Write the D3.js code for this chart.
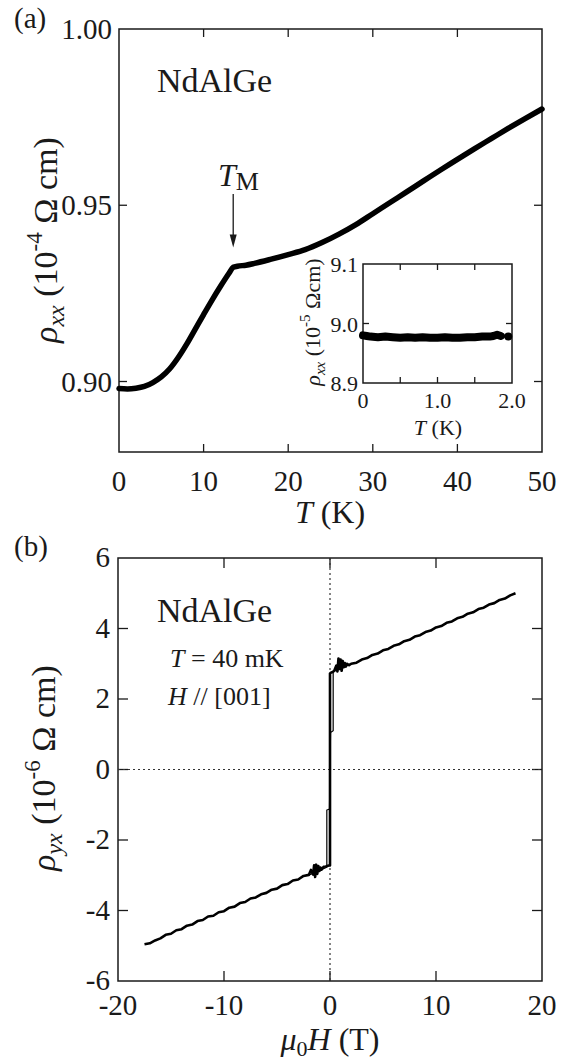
<!DOCTYPE html>
<html>
<head>
<meta charset="utf-8">
<script src="https://cdn.jsdelivr.net/npm/d3@7"></script>
<style>
  body { margin: 0; background: #fff; }
  svg  { display: block; }
  svg text { font-family: "Liberation Serif", "DejaVu Serif", "Noto Serif", "Times New Roman", serif; }
</style>
</head>
<body>
<script>
// ---------- panel (a): rho_xx(T) ----------
const tempK = [0, 1, 2, 3, 4, 5, 6, 7, 8, 9, 10, 11, 12, 13, 13.5, 14, 15, 16, 18, 20,
               22, 24, 26, 28, 30, 32, 34, 36, 38, 40, 42, 44, 46, 48, 50];
const rhoXX = [0.8980, 0.8979, 0.8981, 0.8986, 0.8997, 0.9013, 0.9036, 0.9068, 0.9106, 0.9148,
               0.9190, 0.9231, 0.9270, 0.9307, 0.9324, 0.9327, 0.9330, 0.9335, 0.9347, 0.9360,
               0.9374, 0.9394, 0.9418, 0.9445, 0.9476, 0.9507, 0.9538, 0.9569, 0.9600, 0.9630,
               0.9660, 0.9689, 0.9718, 0.9746, 0.9773];
const TM = 13.5;
const arrowRho = [0.9532, 0.9380];   // arrow top / tip

// inset: low-T rho_xx (10^-5 Ohm cm)
const insetT   = [0, 0.05, 0.1, 0.2, 0.3, 0.4, 0.5, 0.6, 0.7, 0.8, 0.9, 1.0, 1.1, 1.2,
                  1.3, 1.4, 1.5, 1.6, 1.7, 1.75, 1.8, 1.85, null, 1.95];
const insetRho = [8.980, 8.979, 8.978, 8.977, 8.978, 8.977, 8.976, 8.977, 8.976, 8.977, 8.976,
                  8.976, 8.977, 8.976, 8.976, 8.977, 8.977, 8.978, 8.978, 8.979, 8.981, 8.979,
                  null, 8.978];

// ---------- panel (b): rho_yx(H) ----------
const fieldUp = [-17.5, -17, -16.5, -16, -15.5, -15, -14.5, -14, -13.5, -13, -12.5, -12, -11.5,
                 -11, -10.5, -10, -9.5, -9, -8.5, -8, -7.5, -7, -6.5, -6, -5.5, -5, -4.5, -4,
                 -3.5, -3, -2.5, -2, -1.8, -1.6, -1.5, -1.4, -1.3, -1.2, -1.1, -1.0, -0.9, -0.8,
                 -0.6, -0.4, -0.2, -0.05, 0, 0, 0.05, 0.2, 0.4, 0.6, 0.7, 0.8, 0.9, 1.0, 1.1,
                 1.2, 1.3, 1.4, 1.5, 1.6, 1.8, 2, 2.5, 3, 3.5, 4, 4.5, 5, 5.5, 6, 6.5, 7, 7.5,
                 8, 8.5, 9, 9.5, 10, 10.5, 11, 11.5, 12, 12.5, 13, 13.5, 14, 14.5, 15, 15.5, 16,
                 16.5, 17, 17.5];
const rhoYXup = [-4.96, -4.93, -4.85, -4.79, -4.69, -4.66, -4.56, -4.53, -4.43, -4.40, -4.30,
                 -4.27, -4.17, -4.15, -4.05, -4.02, -3.92, -3.89, -3.79, -3.76, -3.66, -3.63,
                 -3.54, -3.50, -3.41, -3.38, -3.28, -3.25, -3.15, -3.12, -3.02, -2.99, -2.85,
                 -2.98, -2.72, -3.05, -2.70, -2.96, -2.74, -2.88, -2.78, -2.84, -2.76, -2.75,
                 -2.73, -2.72, -2.72,
                 2.72, 2.74, 2.76, 2.80, 2.95, 2.78, 3.15, 2.85, 3.12, 2.80, 3.08, 2.90, 3.02,
                 2.92, 3.00, 2.96, 3.00, 3.03, 3.12, 3.16, 3.25, 3.29, 3.38, 3.42, 3.51, 3.55,
                 3.64, 3.68, 3.77, 3.81, 3.90, 3.94, 4.03, 4.07, 4.16, 4.20, 4.29, 4.33, 4.42,
                 4.46, 4.55, 4.59, 4.68, 4.72, 4.81, 4.85, 4.94, 5.00];
const fieldDown = [2, 1.0, 0.5, 0.3, 0.3, 0.05, 0, -0.05, -0.3, -0.3, -0.5, -1.0, -2];
const rhoYXdown = [3.0, 2.86, 2.80, 2.77, 1.10, 1.05, 0, -1.12, -1.15, -2.77, -2.80, -2.86, -3.0];

// ticks
const aTicksX = [0, 10, 20, 30, 40, 50];
const aTicksY = [0.90, 0.95, 1.00];
const inLabelsX = [0, 1.0, 2.0];
const inTicksY = [8.9, 9.0, 9.1];
const bTicksX = [-20, -10, 0, 10, 20];
const bTicksY = [-6, -4, -2, 0, 2, 4, 6];

// ---------- drawing ----------
const W = 573, H = 1061;
const INK = "#1a1a1a";

const svg = d3.select("body").append("svg")
  .attr("width", W).attr("height", H)
  .attr("fill", INK);

function frame(x, y, len, xt, yt) {
  const g = svg.append("g");
  const [x0, x1] = x.range(), [y0, y1] = y.range();
  g.append("rect")
    .attr("x", x0).attr("y", y1)
    .attr("width", x1 - x0).attr("height", y0 - y1)
    .attr("fill", "none").attr("stroke", INK).attr("stroke-width", 1.5);
  // inward ticks on all four sides
  xt.forEach(v => {
    g.append("line").attr("x1", x(v)).attr("x2", x(v)).attr("y1", y0).attr("y2", y0 - len);
    g.append("line").attr("x1", x(v)).attr("x2", x(v)).attr("y1", y1).attr("y2", y1 + len);
  });
  yt.forEach(v => {
    g.append("line").attr("y1", y(v)).attr("y2", y(v)).attr("x1", x0).attr("x2", x0 + len);
    g.append("line").attr("y1", y(v)).attr("y2", y(v)).attr("x1", x1).attr("x2", x1 - len);
  });
  g.selectAll("line").attr("stroke", INK).attr("stroke-width", 1.3);
  return g;
}

function xLabels(x, vals, base, size, fmt) {
  svg.append("g").selectAll("text").data(vals).join("text")
    .attr("x", d => x(d)).attr("y", base)
    .attr("text-anchor", "middle").attr("font-size", size)
    .text(fmt);
}
function yLabels(y, vals, right, size, shift, fmt) {
  svg.append("g").selectAll("text").data(vals).join("text")
    .attr("x", right).attr("y", d => y(d) + shift)
    .attr("text-anchor", "end").attr("font-size", size)
    .text(fmt);
}

// --- panel (a)
const xa = d3.scaleLinear([0, 50], [119, 542]);
const ya = d3.scaleLinear([0.88, 1.00], [452, 29]);

frame(xa, ya, 8, [10, 20, 30, 40], [0.90, 0.95]);
xLabels(xa, aTicksX, 491, 29, d => d);
yLabels(ya, aTicksY, 112, 29, 10, d3.format(".2f"));

svg.append("path")
  .datum(tempK.map((t, i) => [t, rhoXX[i]]))
  .attr("fill", "none").attr("stroke", "#000")
  .attr("stroke-width", 5.5).attr("stroke-linejoin", "round").attr("stroke-linecap", "round")
  .attr("d", d3.line().x(d => xa(d[0])).y(d => ya(d[1])).curve(d3.curveMonotoneX));

// arrow at T_M
svg.append("line")
  .attr("x1", xa(TM)).attr("x2", xa(TM))
  .attr("y1", ya(arrowRho[0])).attr("y2", ya(arrowRho[1]) - 10)
  .attr("stroke", INK).attr("stroke-width", 1.3);
svg.append("path")
  .attr("d", `M${xa(TM) - 3.5},${ya(arrowRho[1]) - 13} L${xa(TM) + 3.5},${ya(arrowRho[1]) - 13} L${xa(TM)},${ya(arrowRho[1])} Z`)
  .attr("fill", INK);

const tm = svg.append("text").attr("x", 218).attr("y", 186).attr("font-size", 32);
tm.append("tspan").attr("font-style", "italic").text("T");
tm.append("tspan").attr("font-size", 26).attr("dy", 4).text("M");

svg.append("text").attr("x", 157).attr("y", 92).attr("font-size", 34).text("NdAlGe");
svg.append("text").attr("x", 14).attr("y", 28).attr("font-size", 29).text("(a)");

// axis titles (a)
const ta = svg.append("text").attr("x", 330).attr("y", 523)
  .attr("text-anchor", "middle").attr("font-size", 32);
ta.append("tspan").attr("font-style", "italic").text("T");
ta.append("tspan").text(" (K)");

const la = svg.append("text")
  .attr("transform", `translate(57,240) rotate(-90)`)
  .attr("text-anchor", "middle").attr("font-size", 34);
la.append("tspan").attr("font-style", "italic").text("ρ");
la.append("tspan").attr("font-style", "italic").attr("font-size", 24).attr("dy", 7).text("xx");
la.append("tspan").attr("dy", -7).text(" (10");
la.append("tspan").attr("font-size", 23).attr("dy", -15).text("-4");
la.append("tspan").attr("dy", 15).text(" Ω cm)");

// --- inset
const xi = d3.scaleLinear([0, 2.0], [363, 512]);
const yi = d3.scaleLinear([8.9, 9.1], [383, 264]);
svg.append("rect").attr("x", 363).attr("y", 264).attr("width", 149).attr("height", 119).attr("fill", "#fff");
frame(xi, yi, 6, [0.5, 1.0, 1.5], [9.0]);
xLabels(xi, inLabelsX, 408, 22, d => d === 0 ? "0" : d3.format(".1f")(d));
yLabels(yi, inTicksY, 358, 22, 8, d3.format(".1f"));

svg.append("path")
  .datum(insetT.map((t, i) => [t, insetRho[i]]))
  .attr("fill", "none").attr("stroke", "#000")
  .attr("stroke-width", 8).attr("stroke-linecap", "round").attr("stroke-linejoin", "round")
  .attr("d", d3.line().defined(d => d[0] !== null).x(d => xi(d[0])).y(d => yi(d[1])));

const ti = svg.append("text").attr("x", 438).attr("y", 435)
  .attr("text-anchor", "middle").attr("font-size", 22);
ti.append("tspan").attr("font-style", "italic").text("T");
ti.append("tspan").text(" (K)");

const li = svg.append("text")
  .attr("transform", `translate(320,322) rotate(-90)`)
  .attr("text-anchor", "middle").attr("font-size", 22);
li.append("tspan").attr("font-style", "italic").text("ρ");
li.append("tspan").attr("font-style", "italic").attr("font-size", 15).attr("dy", 5).text("xx");
li.append("tspan").attr("dy", -5).text(" (10");
li.append("tspan").attr("font-size", 15).attr("dy", -10).text("-5");
li.append("tspan").attr("dy", 10).text(" Ωcm)");

// --- panel (b)
const xb = d3.scaleLinear([-20, 20], [118, 542]);
const yb = d3.scaleLinear([-6, 6], [981, 558]);

frame(xb, yb, 10, [-10, 0, 10], [-4, -2, 0, 2, 4]);
xLabels(xb, bTicksX, 1015, 29, d => d);
yLabels(yb, bTicksY, 110, 29, 9, d => d);

// dotted zero lines
const dotted = svg.append("g")
  .attr("stroke", "#333").attr("stroke-width", 1.2).attr("stroke-dasharray", "2,3");
dotted.append("line").attr("x1", xb(0)).attr("x2", xb(0)).attr("y1", yb(6)).attr("y2", yb(-6));
dotted.append("line").attr("x1", xb(-20)).attr("x2", xb(20)).attr("y1", yb(0)).attr("y2", yb(0));

const lineB = d3.line().x(d => xb(d[0])).y(d => yb(d[1]));
svg.append("path")
  .datum(fieldDown.map((h, i) => [h, rhoYXdown[i]]))
  .attr("fill", "none").attr("stroke", "#000").attr("stroke-width", 1.2)
  .attr("d", lineB);
svg.append("path")
  .datum(fieldUp.map((h, i) => [h, rhoYXup[i]]))
  .attr("fill", "none").attr("stroke", "#000").attr("stroke-width", 2.6)
  .attr("stroke-linejoin", "round")
  .attr("d", lineB);

svg.append("text").attr("x", 157).attr("y", 622).attr("font-size", 34).text("NdAlGe");
const t1 = svg.append("text").attr("x", 170).attr("y", 667).attr("font-size", 26);
t1.append("tspan").attr("font-style", "italic").text("T");
t1.append("tspan").text(" = 40 mK");
const t2 = svg.append("text").attr("x", 168).attr("y", 705).attr("font-size", 26);
t2.append("tspan").attr("font-style", "italic").text("H");
t2.append("tspan").text(" // [001]");
svg.append("text").attr("x", 14).attr("y", 556).attr("font-size", 29).text("(b)");

const tb = svg.append("text").attr("x", 330).attr("y", 1050)
  .attr("text-anchor", "middle").attr("font-size", 32);
tb.append("tspan").attr("font-style", "italic").text("μ");
tb.append("tspan").attr("font-size", 22).attr("dy", 6).text("0");
tb.append("tspan").attr("font-style", "italic").attr("dy", -6).text("H");
tb.append("tspan").text(" (T)");

const lb = svg.append("text")
  .attr("transform", `translate(55,768) rotate(-90)`)
  .attr("text-anchor", "middle").attr("font-size", 34);
lb.append("tspan").attr("font-style", "italic").text("ρ");
lb.append("tspan").attr("font-style", "italic").attr("font-size", 24).attr("dy", 7).text("yx");
lb.append("tspan").attr("dy", -7).text(" (10");
lb.append("tspan").attr("font-size", 23).attr("dy", -15).text("-6");
lb.append("tspan").attr("dy", 15).text(" Ω cm)");
</script>
</body>
</html>
